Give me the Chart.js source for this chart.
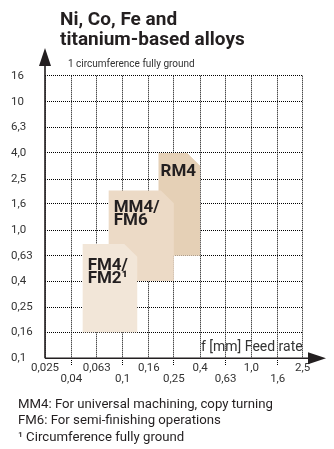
<!DOCTYPE html>
<html><head><meta charset="utf-8">
<script src="https://cdn.jsdelivr.net/npm/chart.js@4/dist/chart.umd.min.js"></script>
<style>
html,body{margin:0;padding:0;background:#fff;}
#wrap{position:relative;width:334px;height:449px;overflow:hidden;font-family:Roboto,sans-serif;color:#231f20;}
#title{position:absolute;left:60px;top:9px;font-weight:bold;font-size:19px;line-height:20px;}
#notes{position:absolute;left:18px;top:396px;font-size:13.2px;line-height:16.3px;}
canvas{position:absolute;left:0;top:0;}
</style></head><body>
<div id="wrap">
<canvas id="c" width="334" height="449"></canvas>
<div id="title">Ni, Co, Fe and<br>titanium-based alloys</div>
<div id="notes">MM4: For universal machining, copy turning<br>FM6: For semi-finishing operations<br>¹ Circumference fully ground</div>
</div>
<script>
// ---- data ----
const feedTicks = [0.025, 0.04, 0.063, 0.1, 0.16, 0.25, 0.4, 0.63, 1.0, 1.6, 2.5];
const feedTickLabels = ['0,025','0,04','0,063','0,1','0,16','0,25','0,4','0,63','1,0','1,6','2,5'];
const depthTicks = [0.1, 0.16, 0.25, 0.4, 0.63, 1.0, 1.6, 2.5, 4.0, 6.3, 10, 16];
const depthTickLabels = ['0,1','0,16','0,25','0,4','0,63','1,0','1,6','2,5','4,0','6,3','10','16'];
// regions (drawn top to bottom: first is on top)
const regionNames = [['FM4/','FM2¹'], ['MM4/','FM6'], ['RM4']];
const feedMin  = [0.049, 0.078, 0.19];
const feedMax  = [0.13, 0.25, 0.4];
const depthMin = [0.16, 0.4, 0.63];
const depthMax = [0.78, 2.04, 4.0];
const regionColors = ['#f2e6d8', '#ecdac6', '#e5d0b6'];
const chamfer = 1.26; // corner cut factor (log scales)

function polygon(i){
  const x0=feedMin[i], x1=feedMax[i], y0=depthMin[i], y1=depthMax[i];
  return [{x:x0,y:y0},{x:x0,y:y1},{x:x1/chamfer,y:y1},{x:x1,y:y1/chamfer},{x:x1,y:y0},{x:x0,y:y0}];
}
const datasets = regionNames.map((n,i)=>({
  label: n.join(''),
  data: polygon(i),
  showLine: true,
  fill: 'shape',
  backgroundColor: regionColors[i],
  borderWidth: 0,
  borderColor: 'rgba(0,0,0,0)',
  pointRadius: 0,
  tension: 0
}));

const INK = '#231f20';
const decor = {
  id: 'decor',
  afterDraw(chart){
    const ctx = chart.ctx, ca = chart.chartArea;
    const xs = chart.scales.x, ys = chart.scales.y;
    ctx.save();
    // region labels
    ctx.fillStyle = INK;
    ctx.font = 'bold 17px Roboto, sans-serif';
    ctx.textBaseline = 'alphabetic';
    const offs = [[5,26],[5,22],[2,23]];
    regionNames.forEach((lines,i)=>{
      const px = xs.getPixelForValue(feedMin[i]) + offs[i][0];
      const py = ys.getPixelForValue(depthMax[i]) + offs[i][1];
      lines.forEach((t,k)=>ctx.fillText(t, px, py + k*12.8));
    });
    // axes
    ctx.strokeStyle = INK; ctx.lineWidth = 1.6;
    ctx.beginPath(); ctx.moveTo(ca.left, ca.bottom); ctx.lineTo(ca.left, 62); ctx.stroke();
    ctx.beginPath(); ctx.moveTo(ca.left, ca.bottom); ctx.lineTo(312, ca.bottom); ctx.stroke();
    ctx.fillStyle = INK;
    ctx.beginPath(); ctx.moveTo(ca.left-6, 66); ctx.lineTo(ca.left+6, 66); ctx.lineTo(ca.left, 48); ctx.closePath(); ctx.fill();
    ctx.beginPath(); ctx.moveTo(308, ca.bottom-6); ctx.lineTo(308, ca.bottom+6); ctx.lineTo(326, ca.bottom); ctx.closePath(); ctx.fill();
    // axis texts
    ctx.fillStyle = '#333';
    ctx.font = '14px Roboto, sans-serif';
    ctx.textAlign = 'right';
    ctx.fillText('f [mm] Feed rate', ca.right, ca.bottom - 7);
    ctx.font = '10px Roboto, sans-serif';
    ctx.textAlign = 'left';
    ctx.fillText('1 circumference fully ground', 68, 67);
    ctx.restore();
  }
};

new Chart(document.getElementById('c'), {
  type: 'scatter',
  data: { datasets },
  options: {
    responsive: false,
    animation: false,
    devicePixelRatio: 1,
    layout: { padding: { left: 11, right: 31.3, top: 75.7, bottom: 449 - 358.3 - 40 } },
    plugins: { legend: { display: false }, tooltip: { enabled: false }, title: { display: false } },
    scales: {
      x: {
        type: 'logarithmic', min: feedTicks[0], max: feedTicks[feedTicks.length-1],
        afterBuildTicks: s => { s.ticks = feedTicks.map(v => ({ value: v })); },
        afterFit: s => { s.height = 40; },
        ticks: {
          autoSkip: false, maxRotation: 0, minRotation: 0, padding: -3,
          color: '#333', font: { family: 'Roboto, sans-serif', size: 11.5, lineHeight: 0.96 },
          callback: (v, i) => (i % 2 ? ['', feedTickLabels[i]] : [feedTickLabels[i], ''])
        },
        grid: {
          color: '#000', lineWidth: 1, tickLength: 7, drawTicks: true,
          tickColor: c => (c.index % 2 ? '#000' : 'rgba(0,0,0,0)'),
          tickBorderDash: [1, 1]
        },
        border: { display: false, dash: [1, 1] }
      },
      y: {
        type: 'logarithmic', min: depthTicks[0], max: depthTicks[depthTicks.length-1],
        afterBuildTicks: s => { s.ticks = depthTicks.map(v => ({ value: v })); },
        afterFit: s => { s.width = 34; },
        ticks: {
          autoSkip: false, crossAlign: 'far', padding: 0,
          color: '#333', font: { family: 'Roboto, sans-serif', size: 11.5 },
          callback: (v, i) => depthTickLabels[i]
        },
        grid: { color: '#000', lineWidth: 1, drawTicks: false, tickLength: 0 },
        border: { display: false, dash: [1, 1] }
      }
    }
  },
  plugins: [decor]
});
</script>
</body></html>
